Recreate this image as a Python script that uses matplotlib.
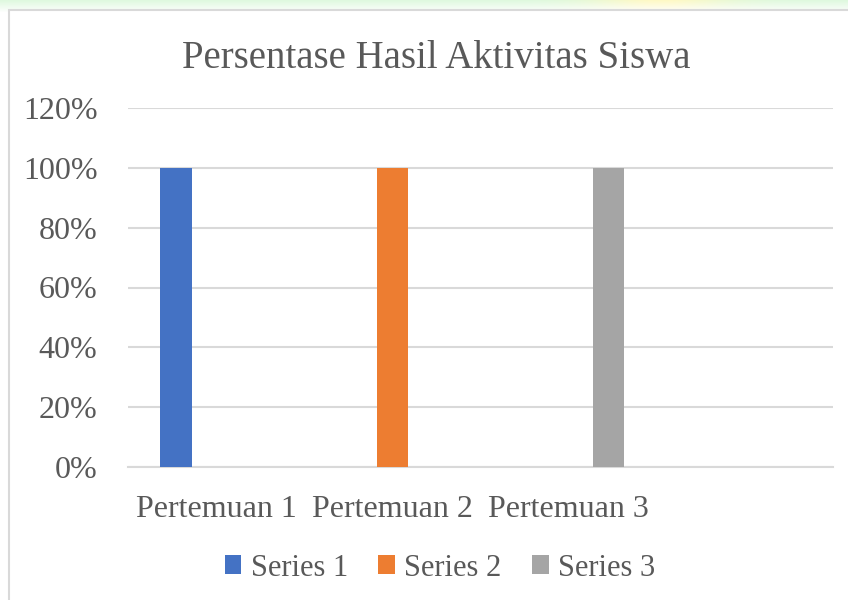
import numpy as np
import matplotlib.pyplot as plt
from matplotlib.patches import Rectangle

categories = ["Pertemuan 1", "Pertemuan 2", "Pertemuan 3", ""]
series_names = ["Series 1", "Series 2", "Series 3"]
series1 = [1.0, 0, 0, 0]
series2 = [0, 1.0, 0, 0]
series3 = [0, 0, 1.0, 0]
colors = ["#4472C4", "#ED7D31", "#A5A5A5"]
yticks = [0, 0.2, 0.4, 0.6, 0.8, 1.0, 1.2]

plt.rcParams['font.family'] = ['Liberation Serif', 'DejaVu Serif']
txt = "#595959"

fig = plt.figure(figsize=(8.48, 6), dpi=100)

# faint watermark behind the chart (top strip)
bg = fig.add_axes([0, 0, 1, 1], zorder=-10)
bg.axis("off")
grad = np.zeros((60, 200, 4))
xs = np.linspace(0, 1, 200)
for i in range(60):
    a = max(0, 1 - i / 12.0) * 0.5
    grad[i, :, 0] = 0.75 + 0.25 * np.exp(-((xs - 0.78) / 0.08) ** 2)
    grad[i, :, 1] = 0.95
    grad[i, :, 2] = 0.75 - 0.2 * np.exp(-((xs - 0.78) / 0.08) ** 2)
    grad[i, :, 3] = a
bg.imshow(grad, extent=[0, 1, 0.9, 1], aspect="auto", transform=bg.transAxes)
bg.set_xlim(0, 1)
bg.set_ylim(0, 1)
bg.add_patch(Rectangle((9 / 848, -0.1), 1.0, 1 - 10 / 600 + 0.1, transform=bg.transAxes,
                       facecolor="white", edgecolor="#D9D9D9", linewidth=1.5))

ax = fig.add_axes([128 / 848, 1 - 467 / 600, (833 - 128) / 848, (467 - 108) / 600])
x = np.arange(len(categories))
off = 0.227
w = 0.18
for vals, c, name, d in zip([series1, series2, series3], colors, series_names, [-off, 0, off]):
    ax.bar(x + d, vals, width=w, color=c, label=name, zorder=3)

ax.set_xlim(-0.5, len(categories) - 0.5)
ax.set_ylim(0, 1.2)
ax.set_yticks(yticks)
ax.set_yticklabels([f"{int(round(v * 100))}%" for v in yticks], fontsize=23, color=txt)
ax.set_xticks(x)
ax.set_xticklabels(categories, fontsize=23, color=txt)
ax.tick_params(length=0)
ax.tick_params(axis="y", pad=22)
ax.tick_params(axis="x", pad=20)
ax.grid(axis="y", color="#D9D9D9", linewidth=1.5, zorder=0)
for s in ["top", "right", "left"]:
    ax.spines[s].set_visible(False)
ax.spines["bottom"].set_color("#D9D9D9")
ax.spines["bottom"].set_linewidth(1.5)
ax.set_facecolor("none")

fig.text(436 / 848, 1 - 58 / 600, "Persentase Hasil Aktivitas Siswa", fontsize=28,
         color=txt, ha="center", va="center")

fig.legend(loc="center", bbox_to_anchor=(440 / 848, 1 - 568 / 600), ncol=3, frameon=False,
           fontsize=22, handlelength=0.55, handleheight=0.55, handletextpad=0.3,
           columnspacing=1.0, labelcolor=txt)

fig.savefig("out.png", dpi=100)
